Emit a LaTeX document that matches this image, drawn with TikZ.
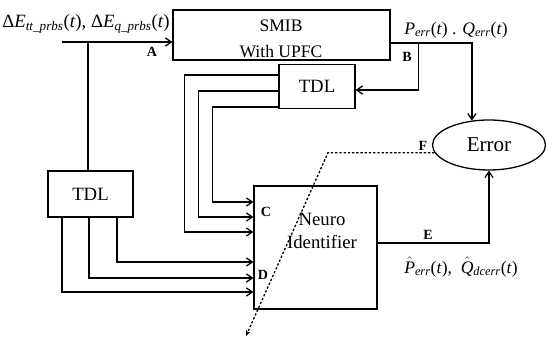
\documentclass[tikz,border=0pt]{standalone}
\usepackage{fontspec}
\setmainfont{Liberation Serif}
\usepackage{tikz}
\usetikzlibrary{arrows.meta, positioning, shapes.geometric, calc}
\newcommand{\sigt}[2]{\textit{#1}\textsubscript{\textit{#2}}(\textit{t})}

\begin{document}
\begin{tikzpicture}[x=0.03cm, y=-0.03cm,
    every node/.style={font=\fontsize{14}{20}\selectfont},
    block/.style={rectangle, draw, line width=1.1pt, align=center},
    tdlbox/.style={rectangle, draw, line width=1.1pt, minimum width=2.28cm, minimum height=1.3cm, font=\fontsize{16}{18}\selectfont},
    portlabel/.style={font=\fontsize{12}{13}\selectfont\bfseries},
    mathlabel/.style={font=\fontsize{15}{18}\selectfont},
    sigline/.style={line width=1.1pt, -{Straight Barb[length=5pt, width=7pt]}},
    trainline/.style={line width=1.1pt, dash pattern=on 2pt off 1.6pt, -{Stealth[length=5pt, width=4pt]}},
]
\useasboundingbox (0,0) rectangle (546,340);
% blocks
\node[block, minimum width=6.51cm, minimum height=1.5cm] (smib) at (281.5,35) {};
\node[align=center, font=\fontsize{15}{22}\selectfont] (smibtext) at (281,39) {SMIB\\With UPFC};
\node[tdlbox] (tdlB) at (317,86.5) {TDL};
\node[tdlbox, minimum width=2.55cm, minimum height=1.38cm] (tdlA) at (90.5,194) {TDL};
\node[block, minimum width=3.69cm, minimum height=3.69cm] (neuro) at (315.5,247.5) {};
\node[align=center, font=\fontsize{16}{20}\selectfont] (neurotext) at (322,231) {Neuro\\Identifier};
\node[ellipse, draw, line width=1.1pt, minimum width=3.39cm, minimum height=1.5cm, font=\fontsize{18}{20}\selectfont] (err) at (489,145) {Error};
\coordinate (src) at (62,42);
\coordinate (tap) at (88,42);
\coordinate (fbend) at (328,153);
\coordinate (fend) at (246,336);
\coordinate (bsplit) at ($(smib.east)+(28,8)$);
% excitation input
\draw[sigline] (src) -- (src -| smib.west);
\draw[line width=1.1pt] (tap) -- (tap |- tdlA.north);
% delayed inputs to the identifier
\draw[sigline] ($(tdlA.south)+(-28.5,0)$) |- ($(neuro.west)+(0,44.5)$);
\draw[sigline] ($(tdlA.south)+(-1.5,0)$) |- ($(neuro.west)+(0,30.5)$);
\draw[sigline] ($(tdlA.south)+(26.5,0)$) |- ($(neuro.west)+(0,14.5)$);
\draw[sigline] ($(tdlB.west)+(0,-11.5)$) -| ($(neuro.west)+(-69,-15.5)$) -- ($(neuro.west)+(0,-15.5)$);
\draw[sigline] ($(tdlB.west)+(0,4.5)$) -| ($(neuro.west)+(-55,-30.5)$) -- ($(neuro.west)+(0,-30.5)$);
\draw[sigline] ($(tdlB.west)+(0,20.5)$) -| ($(neuro.west)+(-41,-45.5)$) -- ($(neuro.west)+(0,-45.5)$);
% plant and model outputs
\draw[sigline] ($(smib.east)+(0,8)$) -| (err.125);
\draw[sigline] (bsplit) |- ($(tdlB.east)+(0,3.5)$);
\draw[sigline] ($(neuro.east)+(0,-4.5)$) -| (err.south);
\draw[trainline] (err.188) -- (err.188 -| fbend) -- (fend);
% labels
\node[portlabel] (lblA) at (152,52) {A};
\node[portlabel] (lblB) at (407,57) {B};
\node[portlabel] (lblC) at (266,212) {C};
\node[portlabel] (lblD) at (263,275) {D};
\node[portlabel] (lblE) at (428,235) {E};
\node[portlabel] (lblF) at (423,146) {F};
\node[mathlabel, font=\fontsize{16}{18}\selectfont] (inlbl) at (86,24) {Δ\sigt{E}{tt\_prbs}, Δ\sigt{E}{q\_prbs}};
\node[mathlabel] (outlbl) at (456,30) {\sigt{P}{err} . \sigt{Q}{err}};
\node[mathlabel] (estlbl) at (461,267) {$\hat{\textit{P}}$\textsubscript{\textit{err}}(\textit{t}),\ \ $\hat{\textit{Q}}$\textsubscript{\textit{dcerr}}(\textit{t})};
\end{tikzpicture}
\end{document}
